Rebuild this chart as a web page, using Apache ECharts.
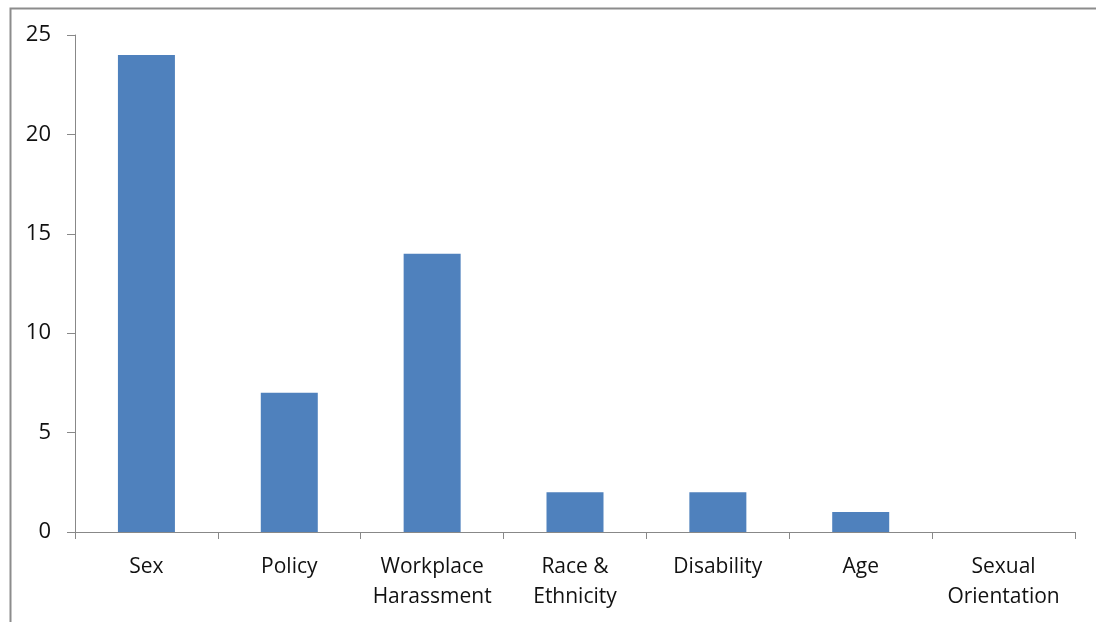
<!DOCTYPE html>
<html><head><meta charset="utf-8">
<script src="https://cdn.jsdelivr.net/npm/echarts@6/dist/echarts.min.js"></script>
<style>html,body{margin:0;padding:0;background:#fff}#c{width:1096px;height:622px}</style>
</head><body><div id="c"></div>
<script>
const categories = ['Sex', 'Policy', 'Workplace\nHarassment', 'Race &\nEthnicity', 'Disability', 'Age', 'Sexual\nOrientation'];
const values = [24, 7, 14, 2, 2, 1, 0];
const yTicks = { min: 0, max: 25, interval: 5 };

const chart = echarts.init(document.getElementById('c'), null, { renderer: 'canvas' });
const font = '"Open Sans", "DejaVu Sans", sans-serif';
chart.setOption({
  animation: false,
  backgroundColor: '#fff',
  graphic: [{
    type: 'rect', left: 8, top: 6, z: 100, silent: true,
    shape: { width: 1200, height: 800 },
    style: { fill: 'none', stroke: '#8c8c8c', lineWidth: 2 }
  }],
  grid: { left: 75, right: 21, top: 35, bottom: 90, containLabel: false },
  xAxis: {
    type: 'category', data: categories,
    axisLine: { lineStyle: { color: '#888', width: 1 } },
    axisTick: { show: true, length: 7, alignWithLabel: false, lineStyle: { color: '#888' } },
    axisLabel: { color: '#111', fontSize: 21, fontFamily: font, margin: 20, lineHeight: 30, interval: 0 }
  },
  yAxis: {
    type: 'value', min: yTicks.min, max: yTicks.max, interval: yTicks.interval,
    splitLine: { show: false },
    axisLine: { show: true, lineStyle: { color: '#888', width: 1 } },
    axisTick: { show: true, length: 8, lineStyle: { color: '#888' } },
    axisLabel: { color: '#111', fontSize: 22, fontFamily: font, margin: 24 }
  },
  series: [{
    type: 'bar', data: values, barWidth: 57,
    itemStyle: { color: '#4F81BD' }
  }]
});
</script></body></html>
